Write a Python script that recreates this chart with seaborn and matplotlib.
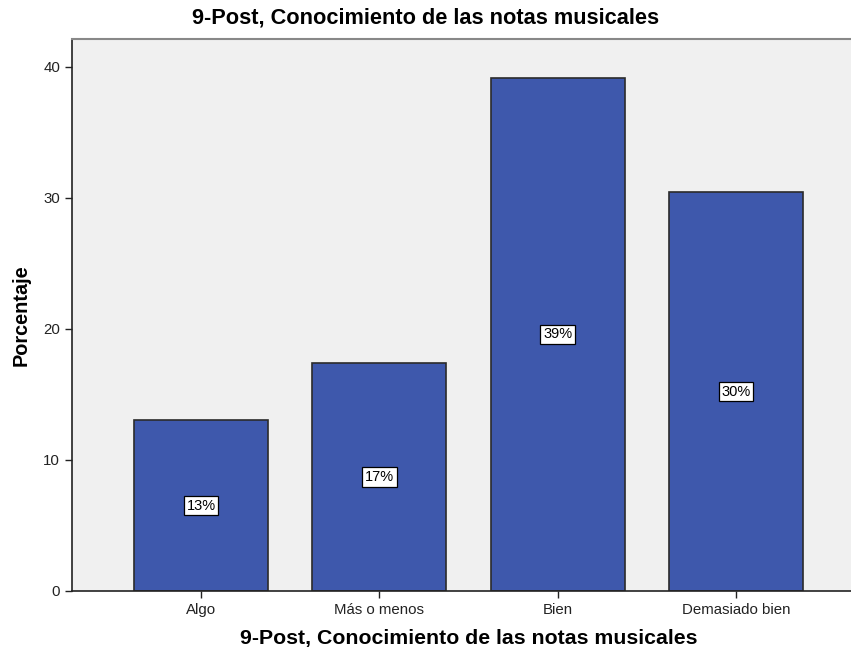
import pandas as pd
import matplotlib
matplotlib.use("Agg")
import matplotlib.pyplot as plt
import seaborn as sns


# Data

categories = ["Algo", "Más o menos", "Bien", "Demasiado bien"]
percentages = [13.04, 17.39, 39.13, 30.43]
bar_labels = ["13%", "17%", "39%", "30%"]
title = "9-Post, Conocimiento de las notas musicales"

df = pd.DataFrame({"categoria": categories, "porcentaje": percentages})


# Style

sns.set_style("ticks")
plt.rcParams["font.family"] = ["Liberation Sans", "DejaVu Sans"]
plt.rcParams["text.color"] = "black"
plt.rcParams["axes.labelcolor"] = "black"

fig = plt.figure(figsize=(8.51, 6.52), dpi=100)
ax = fig.add_axes([72 / 851, 61 / 652, 793 / 851, 552 / 652])
ax.set_facecolor("#f0f0f0")

sns.barplot(data=df, x="categoria", y="porcentaje", color="#3e58ac",
            saturation=1, width=0.753, edgecolor="#2b2b2b", linewidth=1.2,
            errorbar=None, ax=ax)

for i, (v, lab) in enumerate(zip(percentages, bar_labels)):
    ax.text(i, v / 2, lab, ha="center", va="center", fontsize=10.5, color="black",
            bbox=dict(boxstyle="square,pad=0.18", facecolor="white",
                      edgecolor="black", linewidth=0.9))

ax.set_xlim(-0.725, 3.725)
ax.set_ylim(0, 42.1)
ax.set_yticks([0, 10, 20, 30, 40])

ax.set_xlabel(title, fontsize=15.3, fontweight="bold", labelpad=9)
ax.set_ylabel("Porcentaje", fontsize=14.3, fontweight="bold", labelpad=9)
fig.text(426 / 851, 1 - 18 / 652, title, ha="center", va="center",
         fontsize=15.7, fontweight="bold")

ax.tick_params(axis="both", labelsize=10.8, labelcolor="#222222", length=5,
               width=1, color="#222222")
for side in ["left", "bottom"]:
    ax.spines[side].set_color("#222222")
    ax.spines[side].set_linewidth(1.2)
ax.spines["top"].set_visible(True)
ax.spines["top"].set_color("#888888")
ax.spines["top"].set_linewidth(1.5)
ax.spines["right"].set_visible(False)

fig.savefig("out.png", dpi=100, facecolor="white")
